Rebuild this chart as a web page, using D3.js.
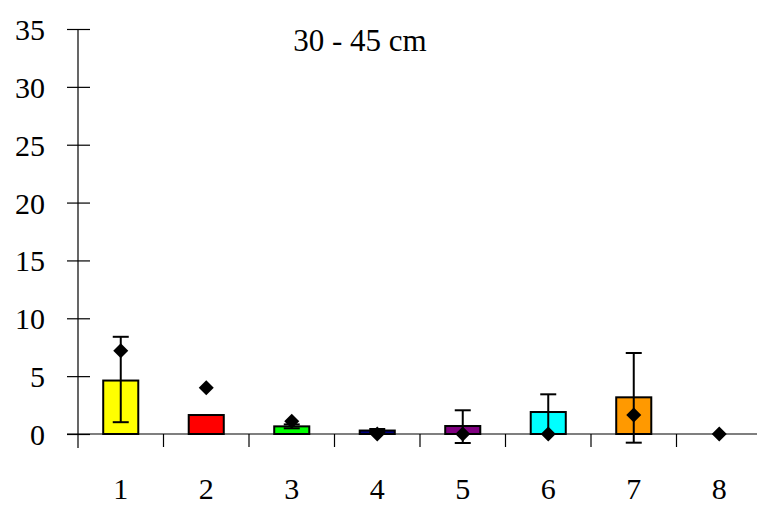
<!DOCTYPE html>
<html>
<head>
<meta charset="utf-8">
<script src="https://cdn.jsdelivr.net/npm/d3@7"></script>
<style>
  html, body { margin: 0; padding: 0; background: #fff; }
  svg { display: block; }
</style>
</head>
<body>
<svg id="chart" width="757" height="505"></svg>
<script>
// Categories along the x axis
const categories = ["1", "2", "3", "4", "5", "6", "7", "8"];
// Bar heights (mean values)
const means = [4.62, 1.64, 0.66, 0.3, 0.69, 1.9, 3.17, 0];
// Upper and lower error-bar lengths (0 = no bar)
const errPlus = [3.78, 0, 0.17, 0.13, 1.36, 1.53, 3.83, 0];
const errMinus = [3.6, 0, 0.17, 0.13, 1.47, 1.9, 3.92, 0];
// Values plotted as black diamonds
const markers = [7.2, 4.0, 1.1, 0, 0, 0, 1.64, 0];
// Bar fill colours
const barColors = ["#ffff00", "#ff0000", "#00ff00", "#000080", "#800080", "#00ffff", "#ff9900", "#ffffff"];
// Y tick values
const yTicks = [0, 5, 10, 15, 20, 25, 30, 35];
const title = "30 - 45 cm";

const FONT = "'Liberation Serif', 'Times New Roman', serif";

const svg = d3.select("#chart");
const axisX0 = 78, axisX1 = 762;
const yTop = 29, yZero = 434;

const x = d3.scaleBand().domain(categories).range([axisX0, axisX1]).paddingInner(0).paddingOuter(0);
const y = d3.scaleLinear().domain([0, 35]).range([yZero, yTop]);
const barW = x.bandwidth() * 0.41;
const cx = c => x(c) + x.bandwidth() / 2;

// Y axis
const yAxis = d3.axisLeft(y).tickValues(yTicks).tickSize(0).tickPadding(0);
const gy = svg.append("g").attr("transform", `translate(${axisX0},0)`).call(yAxis);
gy.attr("font-family", FONT).attr("font-size", 30);
gy.select(".domain").remove();
gy.selectAll(".tick text").remove();
gy.selectAll(".tick").append("line")
  .attr("x1", -11).attr("x2", 12).attr("stroke", "#000").attr("stroke-width", 1.2);
gy.selectAll(".tick").append("text")
  .attr("x", -33).attr("dy", "0.35em").attr("text-anchor", "end")
  .attr("font-family", FONT).attr("font-size", 30).attr("fill", "#000")
  .text(d => d);
svg.append("line")
  .attr("x1", axisX0).attr("x2", axisX0).attr("y1", yTop).attr("y2", yZero + 14)
  .attr("stroke", "#000").attr("stroke-width", 1.2);

// X axis: line, boundary ticks below it, centred labels
svg.append("line")
  .attr("x1", axisX0 - 11).attr("x2", axisX1).attr("y1", yZero).attr("y2", yZero)
  .attr("stroke", "#000").attr("stroke-width", 1.2);
svg.append("g").selectAll("line")
  .data(categories.slice(1))
  .join("line")
  .attr("x1", d => x(d)).attr("x2", d => x(d))
  .attr("y1", yZero).attr("y2", yZero + 13)
  .attr("stroke", "#000").attr("stroke-width", 1.2);
svg.append("g").selectAll("text")
  .data(categories)
  .join("text")
  .attr("x", d => cx(d))
  .attr("y", 499)
  .attr("text-anchor", "middle")
  .attr("font-family", FONT).attr("font-size", 30).attr("fill", "#000")
  .text(d => d);

// Bars
svg.append("g").selectAll("rect")
  .data(categories.map((c, i) => ({ c, v: means[i], col: barColors[i] })).filter(d => d.v > 0))
  .join("rect")
  .attr("x", d => cx(d.c) - barW / 2)
  .attr("y", d => y(d.v))
  .attr("width", barW)
  .attr("height", d => yZero - y(d.v))
  .attr("fill", d => d.col)
  .attr("stroke", "#000")
  .attr("stroke-width", 2);

// Error bars
const errData = categories
  .map((c, i) => ({ c, hi: means[i] + errPlus[i], lo: means[i] - errMinus[i], show: errPlus[i] > 0 || errMinus[i] > 0 }))
  .filter(d => d.show);
const capW = 8;
const eg = svg.append("g").attr("stroke", "#000").attr("stroke-width", 2);
errData.forEach(d => {
  const px = cx(d.c);
  eg.append("line").attr("x1", px).attr("x2", px).attr("y1", y(d.hi)).attr("y2", y(d.lo));
  eg.append("line").attr("x1", px - capW).attr("x2", px + capW).attr("y1", y(d.hi)).attr("y2", y(d.hi));
  eg.append("line").attr("x1", px - capW).attr("x2", px + capW).attr("y1", y(d.lo)).attr("y2", y(d.lo));
});

// Diamond markers
svg.append("g").selectAll("path")
  .data(categories.map((c, i) => ({ c, v: markers[i] })))
  .join("path")
  .attr("transform", d => `translate(${cx(d.c)},${y(d.v)})`)
  .attr("d", "M0,-7.5L7.5,0L0,7.5L-7.5,0Z")
  .attr("fill", "#000");

// Title
svg.append("text")
  .attr("x", 360).attr("y", 51)
  .attr("text-anchor", "middle")
  .attr("font-family", FONT).attr("font-size", 31).attr("fill", "#000")
  .text(title);
</script>
</body>
</html>
